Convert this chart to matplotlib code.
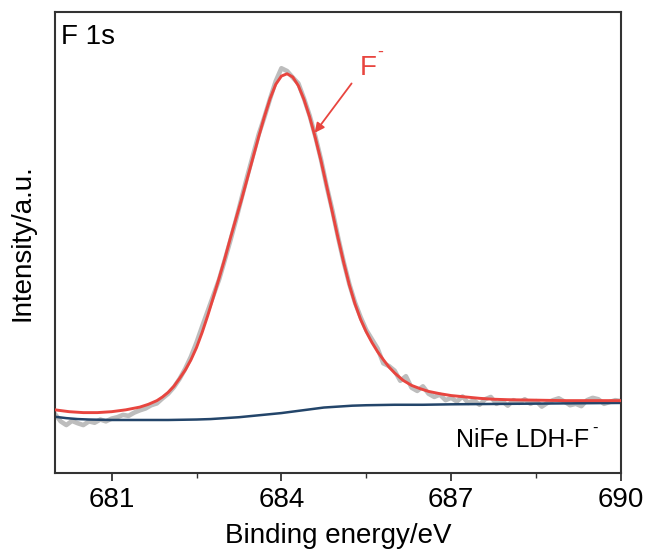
import numpy as np
import matplotlib
matplotlib.use("Agg")
import matplotlib.pyplot as plt
from matplotlib.ticker import MultipleLocator

plt.rcParams['font.family'] = ['Liberation Sans', 'DejaVu Sans']

# Raw (grey) data, 0.1 eV steps from 680.0 to 690.0
raw_x = np.round(np.arange(680.0, 690.01, 0.1), 2)
raw_y = [0.128, 0.112, 0.104, 0.113, 0.108, 0.104, 0.112, 0.109, 0.116, 0.112,
         0.118, 0.121, 0.126, 0.124, 0.131, 0.136, 0.140, 0.147, 0.151, 0.162,
         0.172, 0.186, 0.204, 0.226, 0.252, 0.283, 0.318, 0.352, 0.386, 0.420,
         0.462, 0.505, 0.550, 0.598, 0.645, 0.690, 0.735, 0.772, 0.812, 0.850,
         0.878, 0.872, 0.858, 0.845, 0.812, 0.775, 0.730, 0.680, 0.622, 0.570,
         0.512, 0.458, 0.410, 0.370, 0.338, 0.310, 0.290, 0.270, 0.238, 0.232,
         0.222, 0.200, 0.210, 0.185, 0.178, 0.188, 0.172, 0.165, 0.170, 0.158,
         0.163, 0.155, 0.166, 0.152, 0.158, 0.148, 0.160, 0.165, 0.150, 0.156,
         0.146, 0.158, 0.152, 0.160, 0.150, 0.156, 0.144, 0.152, 0.158, 0.162,
         0.155, 0.147, 0.150, 0.145, 0.158, 0.163, 0.160, 0.150, 0.154, 0.158,
         0.156]

# Fitted envelope (red)
fit_x = [680.0, 680.25, 680.5, 680.75, 681.0, 681.25, 681.5, 681.65, 681.8, 681.9,
         682.0, 682.1, 682.2, 682.3, 682.4, 682.5, 682.6, 682.7, 682.8, 682.9,
         683.0, 683.1, 683.2, 683.3, 683.4, 683.5, 683.6, 683.7, 683.8, 683.9,
         684.0, 684.1, 684.2, 684.3, 684.4, 684.5, 684.6, 684.7, 684.8, 684.9,
         685.0, 685.1, 685.2, 685.3, 685.4, 685.5, 685.6, 685.7, 685.8, 685.9,
         686.0, 686.15, 686.3, 686.45, 686.6, 686.8, 687.0, 687.25, 687.5, 687.75,
         688.0, 688.5, 689.0, 689.5, 690.0]
fit_y = [0.137, 0.133, 0.131, 0.131, 0.133, 0.137, 0.143, 0.149, 0.157, 0.165,
         0.175, 0.188, 0.205, 0.223, 0.245, 0.272, 0.305, 0.342, 0.382, 0.423,
         0.465, 0.510, 0.553, 0.595, 0.640, 0.685, 0.730, 0.773, 0.812, 0.843,
         0.861, 0.866, 0.859, 0.840, 0.810, 0.772, 0.727, 0.677, 0.622, 0.566,
         0.510, 0.457, 0.408, 0.367, 0.333, 0.306, 0.283, 0.263, 0.246, 0.230,
         0.217, 0.201, 0.190, 0.183, 0.177, 0.172, 0.168, 0.165, 0.162, 0.160,
         0.159, 0.158, 0.157, 0.157, 0.157]

# Background (dark blue)
bg_x = [680.0, 680.2, 680.4, 680.6, 681.0, 681.5, 682.0, 682.5, 682.75, 683.0,
        683.25, 683.5, 683.75, 684.0, 684.25, 684.5, 684.75, 685.0, 685.25, 685.5,
        686.0, 686.5, 687.0, 688.0, 689.0, 690.0]
bg_y = [0.122, 0.119, 0.117, 0.116, 0.115, 0.115, 0.115, 0.116, 0.117, 0.119,
        0.121, 0.124, 0.127, 0.130, 0.134, 0.138, 0.142, 0.144, 0.146, 0.147,
        0.148, 0.148, 0.149, 0.150, 0.151, 0.152]

xticks = [681, 684, 687, 690]

fig = plt.figure(figsize=(6.48, 5.59), dpi=100)
ax = fig.add_axes([55/648, 1-473/559, 566/648, 461/559])

ax.plot(raw_x, raw_y, color='#bdbdbd', lw=3.3, solid_capstyle='round',
        solid_joinstyle='round', zorder=1)
ax.plot(fit_x, fit_y, color='#e8453f', lw=2.1, zorder=3)
ax.plot(bg_x, bg_y, color='#23456a', lw=1.8, zorder=2)

ax.set_xlim(680, 690)
ax.set_ylim(0, 1)
ax.set_xticks(xticks)
ax.xaxis.set_minor_locator(MultipleLocator(1.5))
ax.set_yticks([])
ax.tick_params(axis='x', which='major', direction='out', length=6, width=1.3,
               labelsize=20, pad=4, color='#333333')
ax.tick_params(axis='x', which='minor', direction='out', length=3.5, width=1.0,
               color='#333333')
for s in ax.spines.values():
    s.set_linewidth(1.5)
    s.set_color('#333333')

ax.set_xlabel('Binding energy/eV', fontsize=20, labelpad=7)
ax.set_ylabel('Intensity/a.u.', fontsize=20, labelpad=14)

ax.text(0.01, 0.93, 'F 1s', transform=ax.transAxes, fontsize=20,
        ha='left', va='baseline')
ax.text(0.944, 0.056, 'NiFe LDH-F', transform=ax.transAxes, fontsize=18,
        ha='right', va='baseline')
ax.text(0.949, 0.088, '-', transform=ax.transAxes, fontsize=12,
        ha='left', va='baseline')

ax.annotate('', xy=(684.59, 0.738), xytext=(685.24, 0.845),
            arrowprops=dict(arrowstyle='-|>', color='#e8453f', lw=1.3,
                            mutation_scale=14, shrinkA=0, shrinkB=0))
ax.text(685.39, 0.863, 'F', color='#e8453f', fontsize=20,
        ha='left', va='baseline')
ax.text(685.70, 0.902, '-', color='#e8453f', fontsize=13,
        ha='left', va='baseline')

fig.savefig('out.png', dpi=100)
